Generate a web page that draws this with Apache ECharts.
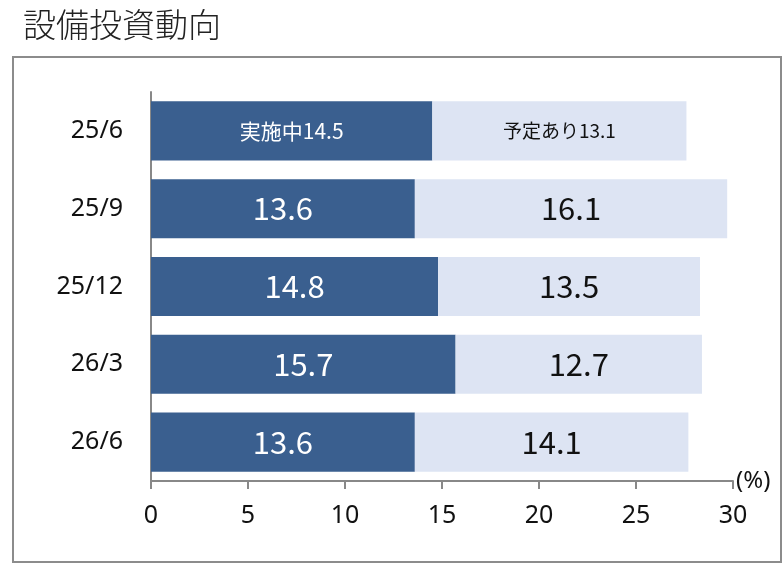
<!DOCTYPE html>
<html><head><meta charset="utf-8">
<script src="https://cdn.jsdelivr.net/npm/echarts@6/dist/echarts.min.js"></script>
<style>html,body{margin:0;padding:0;background:#fff}#c{width:784px;height:568px}</style>
</head><body><div id="c"></div>
<script>
const categories = ['25/6', '25/9', '25/12', '26/3', '26/6'];
const doingValues = [14.5, 13.6, 14.8, 15.7, 13.6];
const plannedValues = [13.1, 16.1, 13.5, 12.7, 14.1];
const xTicks = [0, 5, 10, 15, 20, 25, 30];

const numFont = '"Noto Sans CJK JP", sans-serif';
const axisFont = '"Noto Sans", "Open Sans", sans-serif';
const chart = echarts.init(document.getElementById('c'), null, {renderer: 'canvas'});
chart.setOption({
  animation: false,
  backgroundColor: '#fff',
  title: {
    text: '設備投資動向', left: 18, top: 3,
    textStyle: {fontFamily: '"Noto Sans CJK JP"', fontSize: 33, fontWeight: 300, color: '#222'}
  },
  graphic: [{
    type: 'rect', shape: {x: 13, y: 57, width: 768, height: 505},
    style: {fill: 'none', stroke: '#8c8c8c', lineWidth: 2}, z: -1
  }],
  grid: {left: 151, right: 51, top: 92, bottom: 87, containLabel: false},
  xAxis: {
    type: 'value', min: xTicks[0], max: xTicks[xTicks.length - 1], interval: 5,
    name: '(%)', nameLocation: 'end', nameGap: 3,
    nameTextStyle: {fontFamily: axisFont, fontSize: 24, color: '#111', verticalAlign: 'middle', padding: [0, 0, 8, 0]},
    axisLine: {show: true, lineStyle: {color: '#888', width: 2}},
    axisTick: {show: true, length: 8, lineStyle: {color: '#888', width: 2}},
    splitLine: {show: false},
    axisLabel: {margin: 22, fontFamily: axisFont, fontSize: 25, color: '#111'}
  },
  yAxis: {
    type: 'category', data: categories, inverse: true,
    axisLine: {show: true, lineStyle: {color: '#888', width: 2}},
    axisTick: {show: false},
    axisLabel: {margin: 28, fontFamily: axisFont, fontSize: 25, color: '#111'}
  },
  series: [
    {
      name: '実施中', type: 'bar', stack: 's', barWidth: '76%',
      itemStyle: {color: '#3a5f8f'},
      data: doingValues.map((v, i) => ({
        value: v,
        label: i === 0 ? {formatter: '実施中{c}', fontSize: 21} : {}
      })),
      label: {show: true, position: 'inside', color: '#fff', fontFamily: numFont, fontSize: 31}
    },
    {
      name: '予定あり', type: 'bar', stack: 's', barWidth: '76%',
      itemStyle: {color: '#dde4f3'},
      data: plannedValues.map((v, i) => ({
        value: v,
        label: i === 0 ? {formatter: '予定あり{c}', fontSize: 19} : {}
      })),
      label: {show: true, position: 'inside', color: '#111', fontFamily: numFont, fontSize: 31}
    }
  ]
});
</script></body></html>
